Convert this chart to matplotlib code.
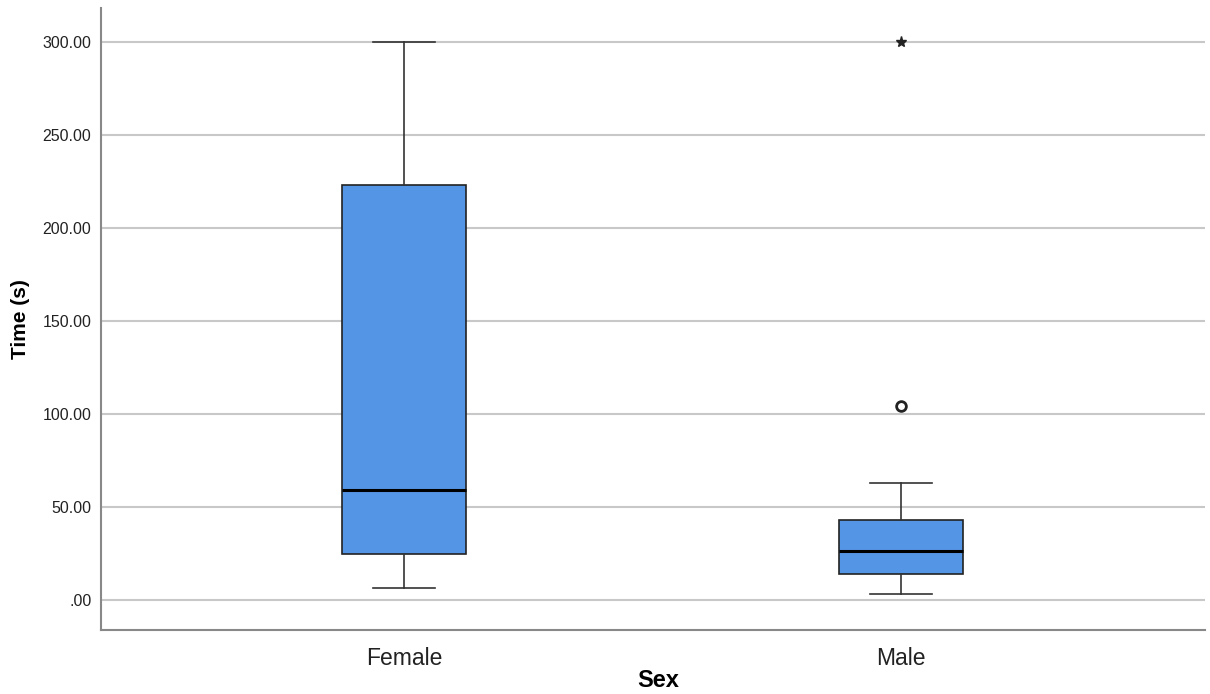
import matplotlib.pyplot as plt

plt.rcParams["font.family"] = ["Liberation Sans", "DejaVu Sans"]

groups = ["Female", "Male"]
q1 = [24.7, 14.0]
median = [59.0, 26.3]
q3 = [222.7, 42.9]
whislo = [6.4, 3.2]
whishi = [300.0, 62.8]
outliers = [[], [104.1]]
extremes = [[], [300.0]]

yticks = [0, 50, 100, 150, 200, 250, 300]
ytick_labels = [".00", "50.00", "100.00", "150.00", "200.00", "250.00", "300.00"]

box_color = "#5595e5"

fig = plt.figure(figsize=(12.1, 6.94), dpi=100)
ax = fig.add_axes([0.0835, 0.0922, 0.9124, 0.8963])

stats = []
for i, g in enumerate(groups):
    stats.append({
        "label": g, "q1": q1[i], "med": median[i], "q3": q3[i],
        "whislo": whislo[i], "whishi": whishi[i], "fliers": outliers[i],
    })

positions = [1, 2]
ax.bxp(stats, positions=positions, widths=0.25, patch_artist=True,
       boxprops=dict(facecolor=box_color, edgecolor="#222222", linewidth=1.2),
       medianprops=dict(color="black", linewidth=2.2),
       whiskerprops=dict(color="#333333", linewidth=1.2),
       capprops=dict(color="#333333", linewidth=1.2),
       capwidths=0.125,
       flierprops=dict(marker="o", markerfacecolor="white", markeredgecolor="#222222",
                       markersize=7, markeredgewidth=2.0),
       zorder=3)

for pos, vals in zip(positions, extremes):
    if vals:
        ax.plot([pos] * len(vals), vals, linestyle="none", marker="*",
                color="#222222", markersize=8, zorder=4)

ax.set_xlim(0.39, 2.612)
ax.set_ylim(-16, 318)
ax.set_yticks(yticks)
ax.set_yticklabels(ytick_labels)
ax.yaxis.grid(True, color="#c8c8c8", linewidth=1.5, zorder=0)
ax.set_axisbelow(True)

ax.tick_params(axis="both", length=0)
ax.tick_params(axis="y", labelsize=11.5, colors="#222222", pad=7)
ax.tick_params(axis="x", labelsize=16.5, colors="#222222", pad=12)

for side in ["top", "right"]:
    ax.spines[side].set_visible(False)
for side in ["left", "bottom"]:
    ax.spines[side].set_color("#888888")
    ax.spines[side].set_linewidth(1.5)

ax.set_ylabel("Time (s)", fontsize=15, fontweight="bold")
ax.yaxis.set_label_coords(-0.064, 0.5)
ax.set_xlabel("Sex", fontsize=17, fontweight="bold")
ax.xaxis.set_label_coords(0.505, -0.062)

fig.savefig("out.png", dpi=100)
